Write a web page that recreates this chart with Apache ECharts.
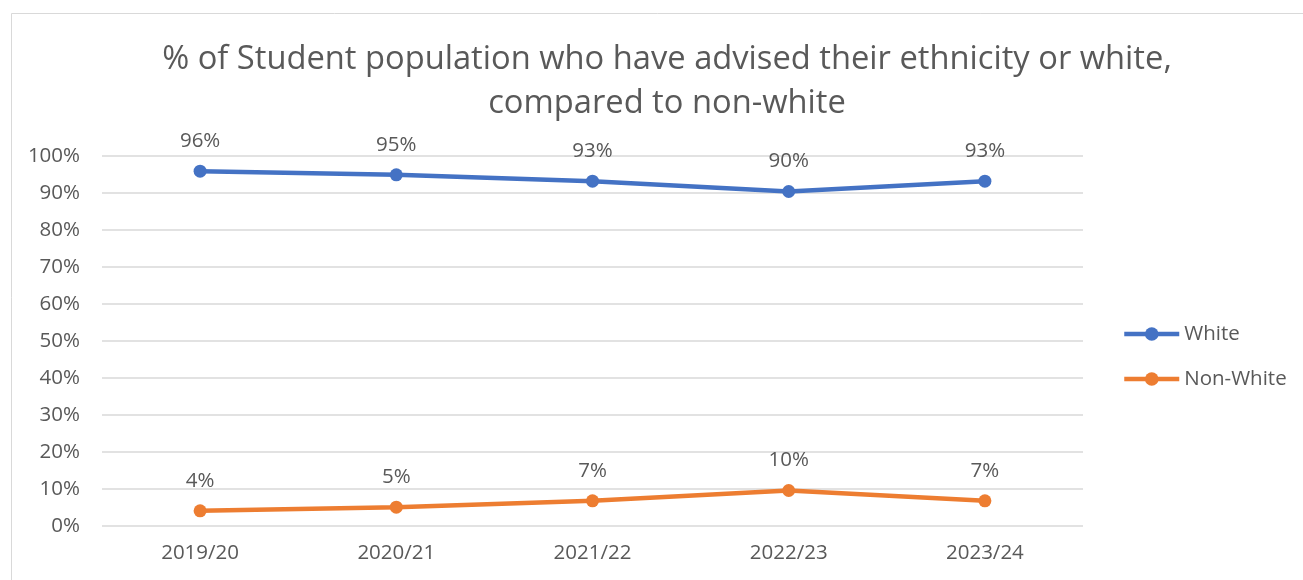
<!DOCTYPE html>
<html>
<head>
<meta charset="utf-8">
<script src="https://cdn.jsdelivr.net/npm/echarts@6/dist/echarts.min.js"></script>
<style>html,body{margin:0;padding:0;background:#fff;}#c{width:1303px;height:580px;}</style>
</head>
<body>
<div id="c"></div>
<script>
const categories = ['2019/20', '2020/21', '2021/22', '2022/23', '2023/24'];
const whiteValues = [95.9, 94.9, 93.2, 90.4, 93.2];
const nonWhiteValues = [4.1, 5.1, 6.8, 9.6, 6.8];
const yTicks = [0, 10, 20, 30, 40, 50, 60, 70, 80, 90, 100];
const seriesNames = ['White', 'Non-White'];

const FONT = '"Open Sans", "Noto Sans", sans-serif';
const TXT = '#595959';
const FS = 20.5;
const chart = echarts.init(document.getElementById('c'));
const lbl = {
  show: true, position: 'top', distance: 13, color: TXT, fontSize: FS, fontFamily: FONT,
  formatter: p => Math.round(p.value) + '%'
};
chart.setOption({
  animation: false,
  backgroundColor: '#fff',
  graphic: [{
    type: 'rect', left: 9, top: 11, shape: { width: 1400, height: 700 },
    style: { fill: 'none', stroke: '#d9d9d9', lineWidth: 1 }, silent: true, z: -1
  }],
  title: {
    text: '% of Student population who have advised their ethnicity or white,\ncompared to non-white',
    left: 662, top: 33, textAlign: 'center',
    textStyle: { color: TXT, fontSize: 32.7, fontWeight: 'normal', fontFamily: FONT, lineHeight: 44 }
  },
  legend: {
    orient: 'vertical', left: 1117, top: 316, itemGap: 19, itemWidth: 55, itemHeight: 17,
    data: seriesNames,
    lineStyle: { width: 4.5 },
    textStyle: { color: TXT, fontSize: FS, fontFamily: FONT, lineHeight: 26 }
  },
  grid: { left: 102, right: 220, top: 156, bottom: 54, containLabel: false },
  xAxis: {
    type: 'category', data: categories, boundaryGap: true,
    axisLine: { show: false }, axisTick: { show: false },
    axisLabel: { color: TXT, fontSize: FS, fontFamily: FONT, margin: 17 }
  },
  yAxis: {
    type: 'value', min: yTicks[0], max: yTicks[yTicks.length - 1], interval: 10,
    axisLine: { show: false }, axisTick: { show: false },
    axisLabel: { color: TXT, fontSize: FS, fontFamily: FONT, margin: 22, formatter: v => v + '%' },
    splitLine: { lineStyle: { color: '#d9d9d9', width: 1.5 } }
  },
  series: [
    {
      name: seriesNames[0], type: 'line', data: whiteValues,
      symbol: 'circle', symbolSize: 13,
      lineStyle: { color: '#4472c4', width: 4.5 }, itemStyle: { color: '#4472c4' },
      label: lbl
    },
    {
      name: seriesNames[1], type: 'line', data: nonWhiteValues,
      symbol: 'circle', symbolSize: 13,
      lineStyle: { color: '#ed7d31', width: 4.5 }, itemStyle: { color: '#ed7d31' },
      label: lbl
    }
  ]
});
</script>
</body>
</html>
